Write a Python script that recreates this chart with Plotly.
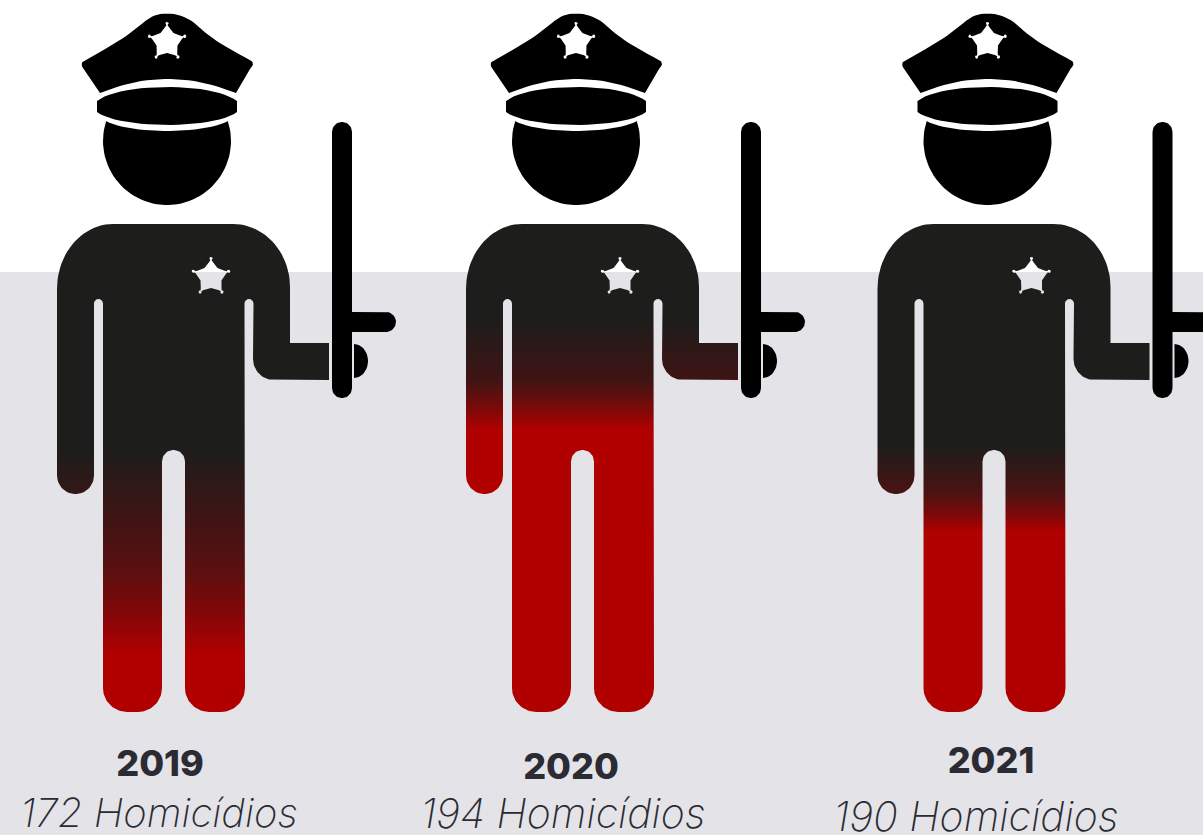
import numpy as np
import plotly.graph_objects as go

# ---- data ----
years = ["2019", "2020", "2021"]
homicides = [172, 194, 190]
unit_label = "Homicídios"
# black-to-red gradient of each figure: page heights and the colours read at them
gradient_y_2019 = [450, 530, 575, 610, 655]
gradient_c_2019 = ["#1d1d1b", "#451313", "#5e0f0f", "#800808", "#b00000"]
gradient_y_2020 = [320, 380, 405, 430]
gradient_c_2020 = ["#1d1d1b", "#3f1414", "#740b0b", "#b00000"]
gradient_y_2021 = [445, 493, 512, 532]
gradient_c_2021 = ["#1d1d1b", "#4a1313", "#770a0a", "#b00000"]
gradient_y = [gradient_y_2019, gradient_y_2020, gradient_y_2021]
gradient_c = [gradient_c_2019, gradient_c_2020, gradient_c_2021]

# ---- layout constants ----
W, H = 1203, 835
BAND_TOP = 272
icon_dx = [0, 409, 820.5]
year_x = [160, 571, 991]
year_y = [767, 770, 764]
label_x = [159, 563, 976]
label_y = [817, 818, 821]
label_size = [40, 41, 41]

BAND = "#e3e3e8"
TEXT = "#2b2b33"


def bez(p0, p1, p2, p3, n=24):
    t = np.linspace(0, 1, n)[:, None]
    p0, p1, p2, p3 = map(np.array, (p0, p1, p2, p3))
    return ((1-t)**3*p0 + 3*(1-t)**2*t*p1 + 3*(1-t)*t**2*p2 + t**3*p3).tolist()


def arc(cx, cy, rx, ry, a0, a1, n=24):
    a = np.radians(np.linspace(a0, a1, n))
    return np.column_stack([cx+rx*np.cos(a), cy+ry*np.sin(a)]).tolist()


def body_outline():
    p = []
    p += arc(113, 289, 56, 65, 180, 270)
    p += arc(233, 287, 57, 63, 270, 360)
    p += [[290, 343], [329, 343], [329, 380], [274, 380]]
    p += arc(274, 359, 21, 21, 90, 180)
    p += arc(249, 303.5, 4.5, 4.5, 0, -180)
    p += arc(221, 688, 24, 24, 0, 90)
    p += arc(209, 688, 24, 24, 90, 180)
    p += arc(173.5, 461.5, 11.5, 11.5, 0, -180)
    p += arc(138, 688, 24, 24, 0, 90)
    p += arc(127, 688, 24, 24, 90, 180)
    p += arc(98.5, 303.5, 4.5, 4.5, 0, -180)
    p += arc(75.5, 475.5, 18.5, 18.5, 0, 180)
    return p


def crown():
    p = bez((100, 93), (145, 74.3), (190, 74.3), (236, 93))
    p += [[250, 69]]
    p += bez((250, 69), (254, 65), (254, 62), (250, 60), 8)
    p += bez((250, 60), (225, 47), (210, 38), (197, 25), 14)
    p += bez((197, 25), (187, 17), (178, 13.5), (167, 13.5), 10)
    p += bez((167, 13.5), (156, 13.5), (150, 17), (143, 23), 10)
    p += bez((143, 23), (125, 38), (110, 47), (85, 60), 14)
    p += bez((85, 60), (81, 62), (81, 65), (83, 68), 8)
    return p


def visor():
    p = bez((97, 101), (120, 82.3), (214, 82.3), (237, 101))
    p += bez((237, 112), (214, 129.3), (120, 129.3), (97, 112))
    return p


def head():
    a0 = np.degrees(np.arcsin(-20/64))
    p = arc(167, 141, 64, 64, a0, 180-a0, 60)
    p += bez((106, 121), (130, 134.3), (204, 134.3), (228, 121))
    return p


def baton():
    return arc(342, 132, 10, 10, 180, 360) + arc(342, 388, 10, 10, 0, 180)


def crossbar():
    return [[352, 312]] + arc(386, 322, 10, 10, -90, 90) + [[352, 332]]


def hand():
    return arc(354, 361, 14, 17, -90, 90)


def star(cx, cy):
    """Sheriff star: narrow necks running out to the five tips."""
    pts = []
    for k in range(5):
        a = k*72 - 90
        for off, r in [(-7, 15), (0, 18), (7, 15), (36, 11)]:
            t = np.radians(a+off)
            pts.append([cx+r*np.cos(t), cy+r*np.sin(t)])
    return pts


def star_tips(cx, cy):
    out = []
    for k in range(5):
        a = np.radians(k*72-90)
        out.append(arc(cx+18.5*np.cos(a), cy+18.5*np.sin(a), 1.7, 1.7, 0, 360, 10))
    return out


def clip_y(poly, limit, keep_above):
    """Cut a polygon along a horizontal line."""
    inside = (lambda q: q[1] <= limit) if keep_above else (lambda q: q[1] >= limit)
    out = []
    for a, b in zip(poly, poly[1:]+poly[:1]):
        if inside(a):
            out.append(a)
        if inside(a) != inside(b):
            t = (limit-a[1])/(b[1]-a[1])
            out.append([a[0]+t*(b[0]-a[0]), limit])
    return out


def join(parts, dx):
    xs, ys = [], []
    for part in parts:
        if not part:
            continue
        xs += [q[0]+dx for q in part] + [part[0][0]+dx, None]
        ys += [q[1] for q in part] + [part[0][1], None]
    return xs, ys


def solid(parts, dx, colour):
    x, y = join(parts, dx)
    return go.Scatter(x=x, y=y, mode="lines", line=dict(width=0), fill="toself",
                      fillcolor=colour, hoverinfo="skip", showlegend=False)


fig = go.Figure()
for i, year in enumerate(years):
    dx = icon_dx[i]
    x, y = join([body_outline()], dx)
    top, bottom = 224, 712
    span = bottom - top
    scale = [[0, gradient_c[i][0]]]
    scale += [[(v-top)/span, c] for v, c in zip(gradient_y[i], gradient_c[i])]
    scale += [[1, gradient_c[i][-1]]]
    fig.add_trace(go.Scatter(
        x=x, y=y, mode="lines", line=dict(width=0), fill="toself",
        fillgradient=dict(type="vertical", start=top, stop=bottom, colorscale=scale),
        hoverinfo="skip", showlegend=False, name=year))
    fig.add_trace(solid([head(), crown(), visor(), baton(), crossbar(), hand()], dx, "#000000"))
    # hat star, and the badge, which is see-through: white above the band, band colour below
    badge = [star(211, 277)] + star_tips(211, 277)
    fig.add_trace(solid([star(167, 42)] + star_tips(167, 42), dx, "#ffffff"))
    fig.add_trace(solid([clip_y(p, BAND_TOP, True) for p in badge], dx, "#ffffff"))
    fig.add_trace(solid([clip_y(p, BAND_TOP, False) for p in badge], dx, BAND))

fig.add_trace(go.Scatter(
    x=year_x, y=year_y, mode="text", text=years, textposition="middle center",
    textfont=dict(family="Inter", size=36, color=TEXT, weight=800),
    hoverinfo="skip", showlegend=False))
fig.add_trace(go.Scatter(
    x=label_x, y=label_y, mode="text",
    text=[f"{v} {unit_label}" for v in homicides], textposition="middle center",
    textfont=dict(family="Inter", size=label_size, color=TEXT, weight=200, style="italic"),
    hoverinfo="skip", showlegend=False))

fig.update_layout(
    width=W, height=H, autosize=False,
    margin=dict(l=0, r=0, t=0, b=0),
    paper_bgcolor="#ffffff", plot_bgcolor="#ffffff",
    xaxis=dict(range=[0, W], visible=False, fixedrange=True),
    yaxis=dict(range=[H, 0], visible=False, fixedrange=True),
    shapes=[dict(type="rect", xref="x", yref="y", x0=0, x1=W, y0=BAND_TOP, y1=H,
                 fillcolor=BAND, line=dict(width=0), layer="below")],
)
fig.write_html("out.html", config={"displayModeBar": False},
               post_script="document.body.style.margin='0';")
